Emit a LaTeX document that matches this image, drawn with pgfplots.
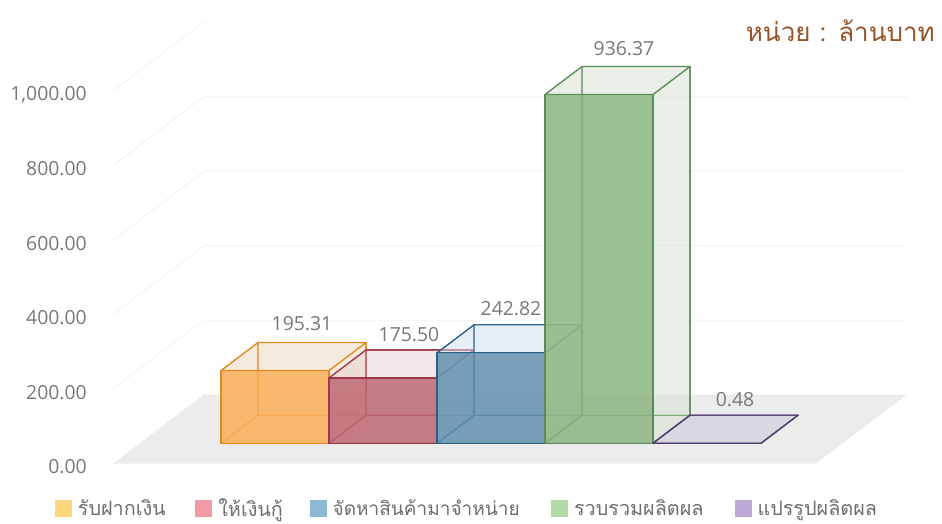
\documentclass[border=0pt]{standalone}
\usepackage{pgfplots}
\pgfplotsset{compat=1.18}
\usepackage{fontspec}
\setmainfont{Open Sans}
\newfontfamily\thaifont[Script=Thai]{Loma}
\definecolor{tickgray}{RGB}{120,120,120}
\definecolor{gridc}{RGB}{243,243,243}
\definecolor{floorc}{RGB}{236,236,236}
\definecolor{titlec}{RGB}{150,85,40}
\definecolor{legc}{RGB}{110,110,110}
\definecolor{l1}{RGB}{224,138,30}\definecolor{f1}{RGB}{250,175,90}\definecolor{p1}{RGB}{235,215,190}
\definecolor{l2}{RGB}{160,55,75}\definecolor{f2}{RGB}{190,105,115}\definecolor{p2}{RGB}{230,210,212}
\definecolor{l3}{RGB}{40,95,135}\definecolor{f3}{RGB}{100,145,175}\definecolor{p3}{RGB}{210,222,235}
\definecolor{l4}{RGB}{90,140,85}\definecolor{f4}{RGB}{140,182,130}\definecolor{p4}{RGB}{215,225,210}
\definecolor{l5}{RGB}{80,60,110}\definecolor{f5}{RGB}{190,170,215}\definecolor{p5}{RGB}{200,197,212}
\definecolor{s1}{RGB}{254,215,125}\definecolor{s2}{RGB}{240,155,165}\definecolor{s3}{RGB}{140,185,212}\definecolor{s4}{RGB}{178,218,165}\definecolor{s5}{RGB}{190,170,215}
\newcommand\py[1]{{(463.5-#1)/0.3725}}
% one face of a box: x, value, depth (0 front, 1 back)
\pgfplotsset{face/.style={forget plot,line width=1.15pt,line join=round}}
\newcommand\fc[2]{\addplot[face,#1] table[row sep=\\,x expr=\thisrow{x}+37*\thisrow{d},y expr=\thisrow{v}+54.2+75.2*\thisrow{d}]{x v d\\ #2}--cycle;}
\newcommand\threeDbar[4]{%
 % #1 left x, #2 right x, #3 value, #4 colour index
 \fc{draw=l#4,draw opacity=.85,fill=p#4,fill opacity=.3}{#1 0 0\\ #2 0 0\\ #2 0 1\\ #1 0 1\\}
 \fc{draw=l#4,draw opacity=.85,fill=p#4,fill opacity=.3}{#1 0 1\\ #2 0 1\\ #2 #3 1\\ #1 #3 1\\}
 \fc{draw=l#4,draw opacity=.85,fill=p#4,fill opacity=.3}{#1 0 0\\ #1 0 1\\ #1 #3 1\\ #1 #3 0\\}
 \fc{draw=l#4,draw opacity=.85,fill=p#4,fill opacity=.3}{#2 0 0\\ #2 0 1\\ #2 #3 1\\ #2 #3 0\\}
 \fc{draw=l#4,fill=p#4,fill opacity=.3}{#1 #3 0\\ #2 #3 0\\ #2 #3 1\\ #1 #3 1\\}
 \fc{draw=l#4,fill=f#4,fill opacity=.85}{#1 0 0\\ #2 0 0\\ #2 #3 0\\ #1 #3 0\\}
}
\newcommand\gridlevel[2]{%
 \addplot[forget plot,gridc,line width=1pt] coordinates {(113,#1) (204,#2) (907,#2)};}
\begin{document}
\begin{tikzpicture}
\useasboundingbox (0,0) rectangle (942pt,523pt);
\begin{axis}[
 at={(102pt,0pt)},anchor=south west,
 scale only axis,width=840pt,height=523pt,
 xmin=102,xmax=942,ymin=-159.7,ymax=1244.3,
 clip=false,
 axis line style={draw=none},
 major tick length=0pt,
 xtick=\empty,
 ytick={0,200,400,600,800,1000},
 yticklabel style={/pgf/number format/.cd,fixed,fixed zerofill,precision=2,1000 sep={,},assume math mode=true,
   /tikz/.cd,font=\fontsize{19.4}{22}\selectfont,text=tickgray,anchor=east,inner sep=0pt,xshift=-15pt,yshift=-3.5pt},
 legend columns=-1,
 legend style={at={(axis cs:55,{(463.5-508.5)/0.3725})},anchor=west,draw=none,fill=none,inner sep=0pt,outer sep=0pt,
   nodes={inner sep=0pt,text=legc,font=\thaifont\fontsize{19.8}{22}\selectfont},
   /tikz/every odd column/.append style={column sep=6.5pt}},
 legend image code/.code={\fill[#1] (0pt,-8pt) rectangle (16pt,8pt);},
 legend cell align=left,
]
% floor
\addplot[forget plot,draw=none,fill=floorc] coordinates {(113,0) (816,0) (907,185.2) (204,185.2)} --cycle;
% walls
\gridlevel{200}{385.2}\gridlevel{400}{585.2}\gridlevel{600}{785.2}\gridlevel{800}{985.2}
\addplot[forget plot,gridc,line width=1pt] coordinates {(113,1000) (204,1185.2)};
% boxes
\threeDbar{221}{329}{195.31}{1}
\threeDbar{329}{437}{175.50}{2}
\threeDbar{437}{545}{242.82}{3}
\threeDbar{545}{653}{936.37}{4}
\threeDbar{653}{761}{0.48}{5}
% labels
\node[text=tickgray,font=\fontsize{19.4}{22}\selectfont] at (axis cs:302,\py{323.5}) {195.31};
\node[text=tickgray,font=\fontsize{19.4}{22}\selectfont] at (axis cs:409,\py{334.5}) {175.50};
\node[text=tickgray,font=\fontsize{19.4}{22}\selectfont] at (axis cs:511,\py{308.5}) {242.82};
\node[text=tickgray,font=\fontsize{19.4}{22}\selectfont] at (axis cs:624,\py{48.5}) {936.37};
\node[text=tickgray,font=\fontsize{19.4}{22}\selectfont] at (axis cs:735,\py{399.5}) {0.48};
\node[text=titlec,font=\thaifont\fontsize{26}{30}\selectfont,anchor=east,inner sep=0pt] at (axis cs:935,\py{31}) {หน่วย : ล้านบาท};
% legend
\addlegendimage{s1}\addlegendentry{\makebox[117.5pt][l]{รับฝากเงิน}}
\addlegendimage{s2}\addlegendentry{\makebox[91.5pt][l]{ให้เงินกู้}}
\addlegendimage{s3}\addlegendentry{\makebox[218.5pt][l]{\fontsize{19}{22}\selectfont จัดหาสินค้ามาจำหน่าย}}
\addlegendimage{s4}\addlegendentry{\makebox[160.5pt][l]{รวบรวมผลิตผล}}
\addlegendimage{s5}\addlegendentry{\makebox[117pt][l]{แปรรูปผลิตผล}}
\end{axis}
\end{tikzpicture}
\end{document}
